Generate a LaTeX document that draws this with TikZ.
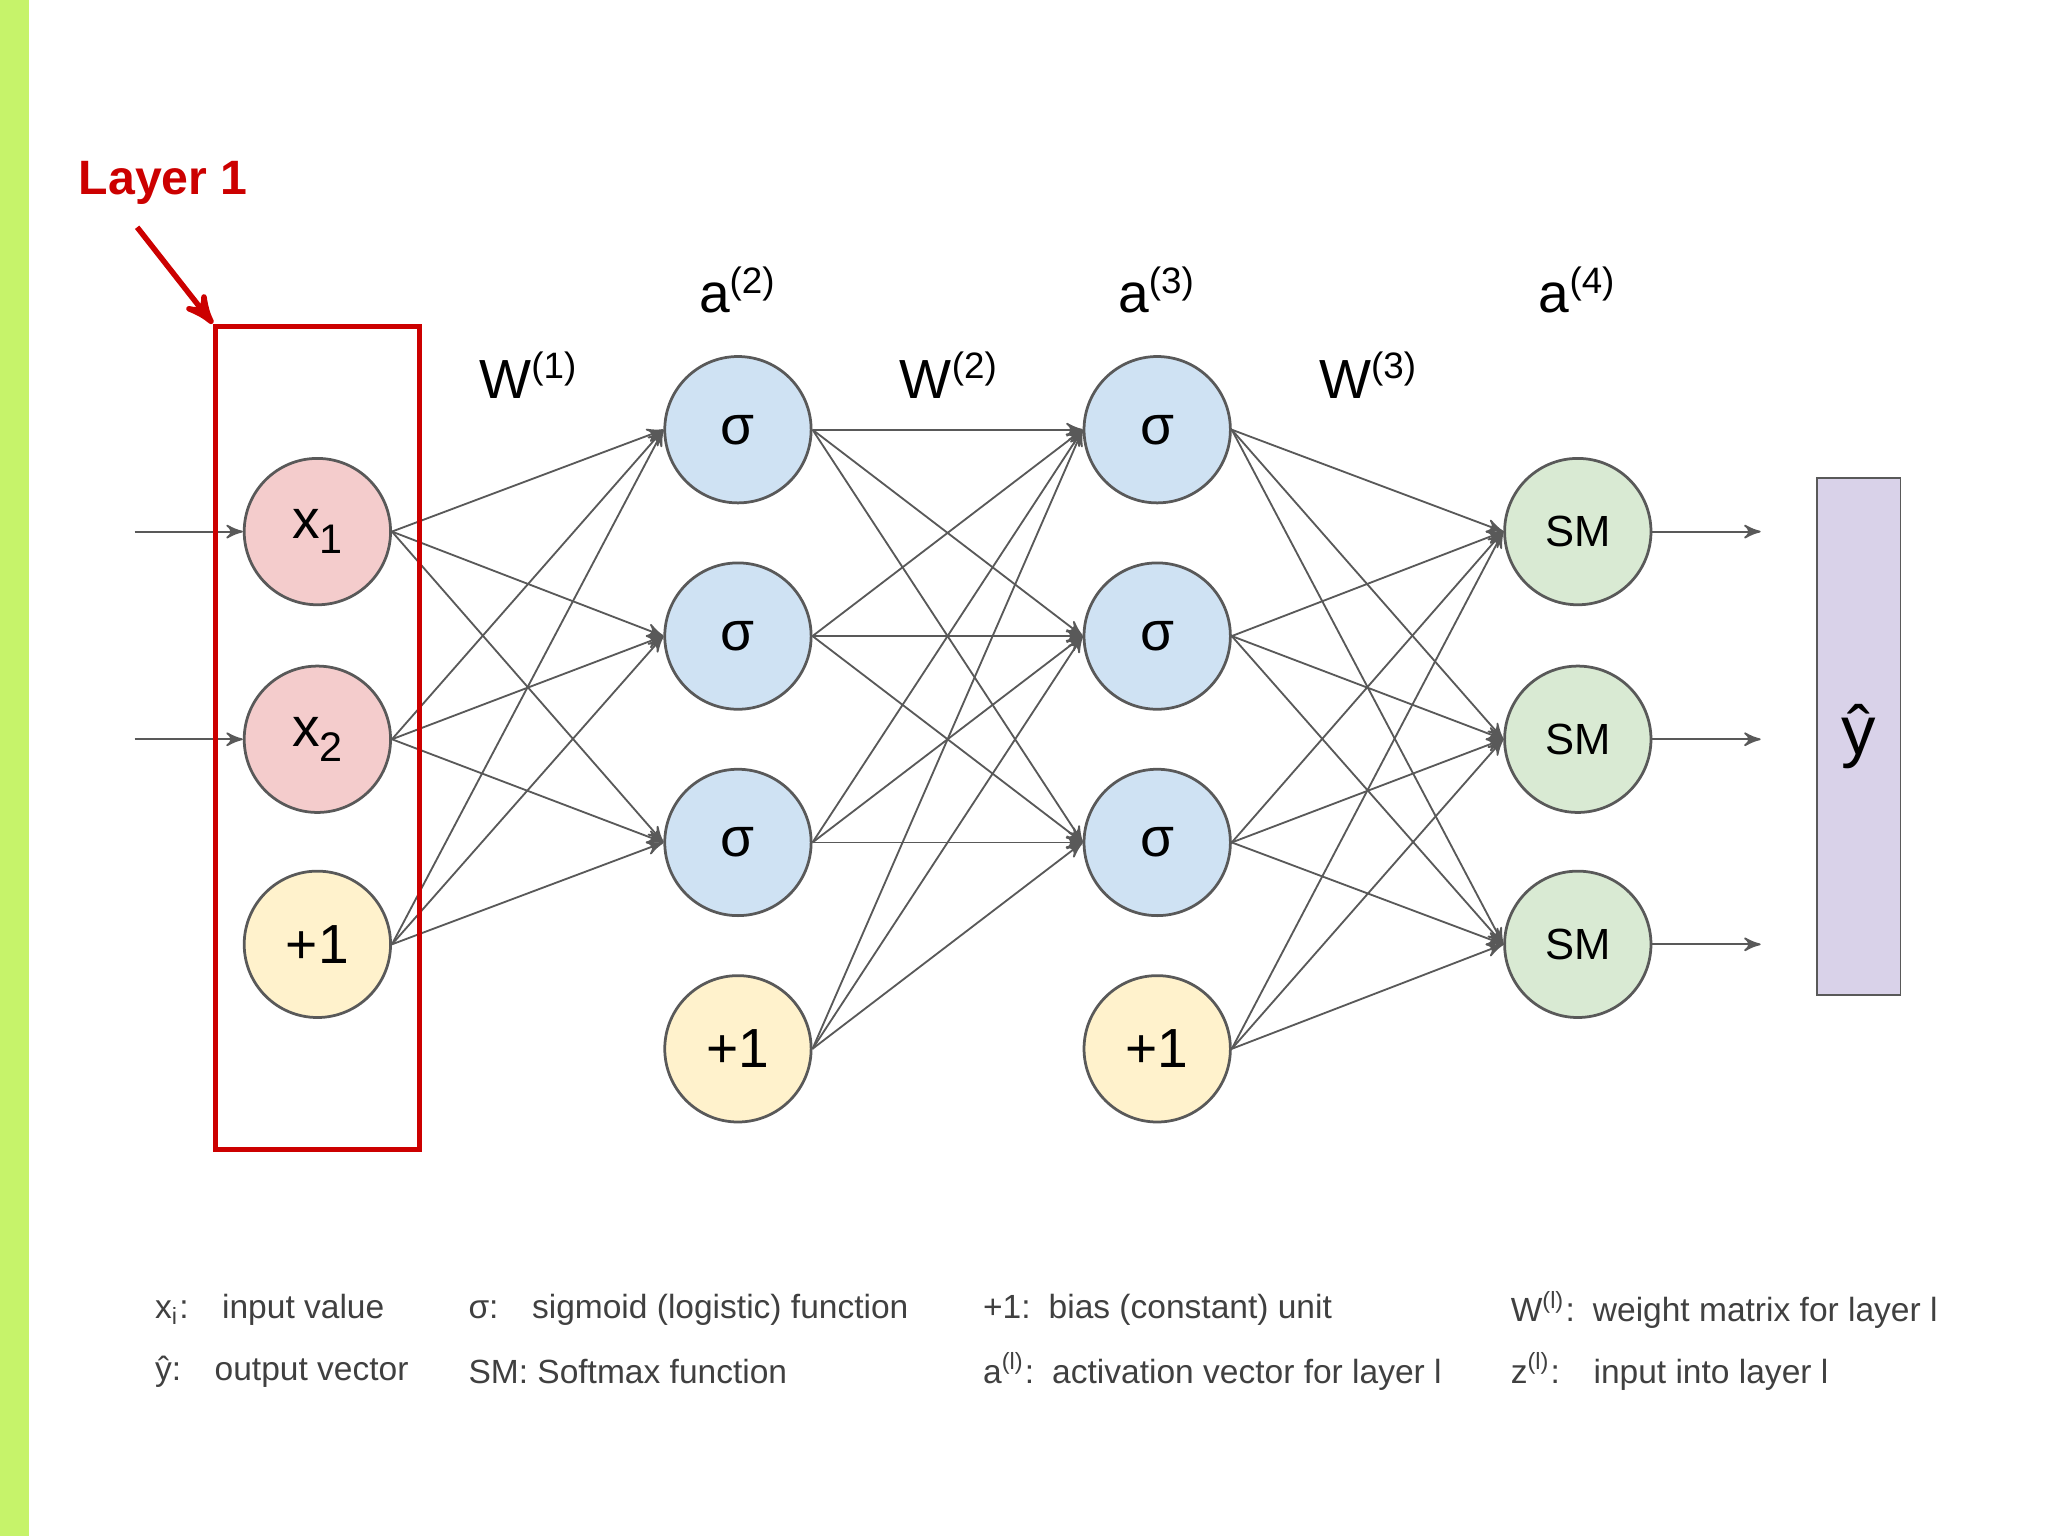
\documentclass[tikz,border=0pt]{standalone}
\usepackage{fontspec}
\setmainfont{Liberation Sans}
\usepackage{tikz}
\usetikzlibrary{
  positioning,
  arrows
}
\definecolor{inred}{HTML}{F4CCCC}
\definecolor{hidblue}{HTML}{CFE2F3}
\definecolor{biasyel}{HTML}{FFF2CC}
\definecolor{smgreen}{HTML}{D9EAD3}
\definecolor{outpurp}{HTML}{D9D2E9}
\definecolor{laybar}{HTML}{C6F36A}
\definecolor{layred}{HTML}{CC0000}
\definecolor{edgegray}{HTML}{595959}
\tikzset{
  >=stealth',
  unit/.style={circle, draw=edgegray, semithick, minimum size=1.12cm, inner sep=0pt, font=\fontsize{12}{14}\selectfont},
  conn/.style={->, draw=edgegray, thin},
  lbl/.style={font=\fontsize{12}{14}\selectfont},
  legend/.style={anchor=west, inner sep=0pt, font=\fontsize{7.3}{9}\selectfont, text=black!75}
}

\begin{document}
\begin{tikzpicture}[x=0.01cm, y=-0.01cm]
    \useasboundingbox (0,0) rectangle (1568,1176);
    \fill[laybar] (0,0) rectangle (22,1176);

    % input layer
    \node[unit, fill=inred]   (x1) at (243,407) {x\raisebox{-0.5ex}{\small 1}};
    \node[unit, fill=inred]   (x2) at (243,566) {x\raisebox{-0.5ex}{\small 2}};
    \node[unit, fill=biasyel] (b1) at (243,723) {+1};

    % hidden layers
    \foreach \l/\x in {2/565, 3/886} {
      \node[unit, fill=hidblue] (h\l1) at (\x,329) {σ};
      \node[unit, fill=hidblue] (h\l2) at (\x,487) {σ};
      \node[unit, fill=hidblue] (h\l3) at (\x,645) {σ};
      \node[unit, fill=biasyel] (h\l4) at (\x,803) {+1};
    }

    % softmax layer
    \foreach \j/\yy in {1/407, 2/566, 3/723}
      \node[unit, fill=smgreen, font=\fontsize{9.5}{11}\selectfont] (s\j) at (1208,\yy) {SM};

    \node[draw=edgegray, fill=outpurp, minimum width=0.64cm, minimum height=3.96cm,
          font=\fontsize{15}{18}\selectfont] (y) at (1423,564) {ŷ};

    % connections
    \foreach \i in {x1,x2,b1}
      \foreach \j in {1,2,3}
        \draw[conn] (\i.east) -- (h2\j.west);
    \foreach \i in {1,2,3,4}
      \foreach \j in {1,2,3}
        \draw[conn] (h2\i.east) -- (h3\j.west);
    \foreach \i in {1,2,3,4}
      \foreach \j in {1,2,3}
        \draw[conn] (h3\i.east) -- (s\j.west);

    \coordinate (in1) at (103,407);
    \coordinate (in2) at (103,566);
    \draw[conn] (in1) -- (x1);
    \draw[conn] (in2) -- (x2);
    \foreach \j/\yy in {1/407, 2/566, 3/723} {
      \coordinate (out\j) at (1348,\yy);
      \draw[conn] (s\j) -- (out\j);
    }

    % labels
    \node[lbl] (w1) at (405,287) {W\textsuperscript{(1)}};
    \node[lbl] (w2) at (727,287) {W\textsuperscript{(2)}};
    \node[lbl] (w3) at (1048,287) {W\textsuperscript{(3)}};
    \node[lbl] (a2) at (565,222) {a\textsuperscript{(2)}};
    \node[lbl] (a3) at (886,222) {a\textsuperscript{(3)}};
    \node[lbl] (a4) at (1208,222) {a\textsuperscript{(4)}};

    % layer 1 marker
    \node[draw=layred, line width=1.2pt, minimum width=1.56cm, minimum height=6.3cm] (box) at (243,565) {};
    \node[text=layred, font=\bfseries\fontsize{10.5}{12}\selectfont] (lay) at (125,140) {Layer 1};
    \coordinate (la) at (105,174);
    \draw[->, layred, line width=1.2pt] (la) -- (box.north west);

    % legend
    \node[legend] (l1) at (118,1003) {x\textsubscript{i}:\quad input value};
    \node[legend] (l2) at (118,1050) {ŷ:\quad output vector};
    \node[legend] (l3) at (358,1003) {σ:\quad sigmoid (logistic) function};
    \node[legend] (l4) at (358,1050) {SM: Softmax function};
    \node[legend] (l5) at (752,1003) {+1:\, bias (constant) unit};
    \node[legend] (l6) at (752,1050) {a\textsuperscript{(l)}:\, activation vector for layer l};
    \node[legend] (l7) at (1156,1003) {W\textsuperscript{(l)}:\, weight matrix for layer l};
    \node[legend] (l8) at (1156,1050) {z\textsuperscript{(l)}:\quad input into layer l};
\end{tikzpicture}
\end{document}
